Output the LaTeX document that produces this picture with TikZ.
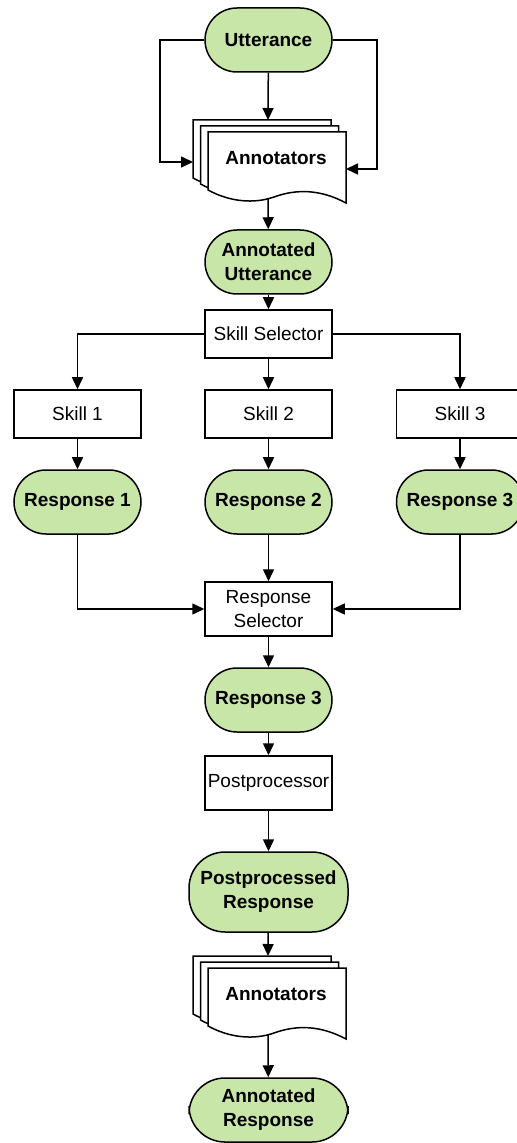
\documentclass[tikz,border=0pt]{standalone}
\usepackage{fontspec}
\setmainfont{Liberation Sans}
\usetikzlibrary{arrows.meta}
\definecolor{termgreen}{RGB}{199,230,168}

% one sheet of the annotators stack, top-left corner at (#1,#2)
\newcommand\docsheet[2]{%
  \begin{scope}[shift={(#1,#2)}]
    \filldraw[fill=white] (0,0) -- (138,0) -- (138,71)
      .. controls (112,57) and (88,57) .. (66,65)
      .. controls (46,72) and (22,70) .. (0,58) -- cycle;
  \end{scope}}

\begin{document}
\begin{tikzpicture}[x=0.5pt,y=-0.5pt,line width=0.75pt,
  >={Triangle[length=6pt,width=5.5pt]},
  every node/.style={font=\fontsize{9.5}{12}\selectfont,align=center},
  term/.style={draw,fill=termgreen,rounded corners=16pt,minimum width=63.5pt,
    minimum height=32pt,font=\fontsize{9.5}{12}\selectfont\bfseries},
  bigterm/.style={term,rounded corners=18pt,minimum width=79.5pt},
  proc/.style={draw,fill=white,minimum width=63.5pt,minimum height=24pt},
  docs/.style={font=\fontsize{9.5}{12}\selectfont\bfseries}]
  \useasboundingbox (0,0) rectangle (517,1143);

  \node[term] (utt) at (268.5,40) {Utterance};
  \docsheet{193}{120}
  \docsheet{200.5}{126}
  \docsheet{208}{132}
  \node[docs] (annA) at (276,158) {Annotators};
  \coordinate (annAtop) at (268,120);
  \coordinate (annAleft) at (193,162);
  \coordinate (annAright) at (346,169);
  \coordinate (annAbot) at (268,199);

  \node[term] (annutt) at (268.5,262) {Annotated\\Utterance};
  \node[proc] (sksel) at (268.5,334) {Skill Selector};
  \node[proc] (sk1) at (77.5,414) {Skill 1};
  \node[proc] (sk2) at (268.5,414) {Skill 2};
  \node[proc] (sk3) at (460,414) {Skill 3};
  \node[term] (resp1) at (77.5,502) {Response 1};
  \node[term] (resp2) at (268.5,502) {Response 2};
  \node[term] (resp3) at (460,502) {Response 3};
  \node[proc,minimum height=27pt] (respsel) at (268.5,609) {Response\\Selector};
  \node[term] (chosen) at (268.5,700) {Response 3};
  \node[proc,minimum height=27pt,inner xsep=0.5pt] (post) at (268.5,783) {Postprocessor};
  \node[bigterm,minimum height=40pt] (postresp) at (268.5,892) {Postprocessed\\Response};

  \docsheet{193}{956}
  \docsheet{200.5}{962}
  \docsheet{208}{968}
  \node[docs] (annB) at (276,994) {Annotators};
  \coordinate (annBtop) at (268,956);
  \coordinate (annBbot) at (268,1035);

  \node[bigterm] (annresp) at (268.5,1110) {Annotated\\Response};

  \draw[->] (utt) -- (annAtop);
  \draw[->] (utt.west) -- (160,40) |- (annAleft);
  \draw[->] (utt.east) -- (377,40) |- (annAright);
  \draw[->] (annAbot) -- (annutt);
  \draw[->] (annutt) -- (sksel);
  \draw[->] (sksel.west) -| (sk1.north);
  \draw[->] (sksel) -- (sk2);
  \draw[->] (sksel.east) -| (sk3.north);
  \foreach \i in {1,2,3}
    \draw[->] (sk\i) -- (resp\i);
  \draw[->] (resp1.south) |- (respsel.west);
  \draw[->] (resp2) -- (respsel);
  \draw[->] (resp3.south) |- (respsel.east);
  \draw[->] (respsel) -- (chosen);
  \draw[->] (chosen) -- (post);
  \draw[->] (post) -- (postresp);
  \draw[->] (postresp) -- (annBtop);
  \draw[->] (annBbot) -- (annresp);
\end{tikzpicture}
\end{document}
